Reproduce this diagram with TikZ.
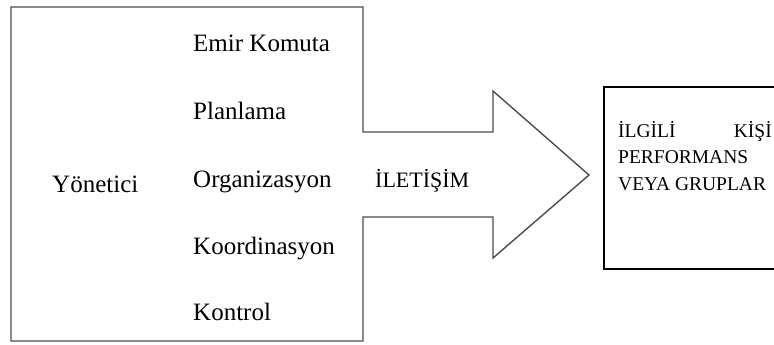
\documentclass[tikz,border=0pt]{standalone}
\usepackage{fontspec}
\setmainfont{Liberation Serif}
\begin{document}
\begin{tikzpicture}[x=1pt,y=-1pt,
  lbl/.style={inner sep=0pt, anchor=base west, font=\fontsize{25}{30}\selectfont},
  mid/.style={inner sep=0pt, anchor=base west, font=\fontsize{22}{26}\selectfont},
  rt/.style={inner sep=0pt, anchor=base west, font=\fontsize{19.5}{24}\selectfont},
  outline/.style={draw=black!70, line width=1.4pt, line join=miter},
  boxline/.style={draw=black, line width=1.4pt}]
\path[use as bounding box, clip] (0,0) rectangle (774,345);
\fill[white] (0,0) rectangle (774,345);
% main shape with arrow
\draw[outline] (11,7) -- (363,7) -- (363,132) -- (493,132) -- (493,91) -- (589,175)
  -- (493,258) -- (493,217) -- (363,217) -- (363,341) -- (11,341) -- cycle;
% right box (cut at the edge)
\draw[boxline] (604,87) rectangle (800,269);
% texts
\node[lbl] (yon) at (52,192) {Yönetici};
\node[lbl] (emir) at (193,52) {Emir Komuta};
\node[lbl] (plan) at (193,119) {Planlama};
\node[lbl] (org) at (193,187) {Organizasyon};
\node[lbl] (koor) at (193,254) {Koordinasyon};
\node[lbl] (kon) at (193,320) {Kontrol};
\node[mid] (ilet) at (375,187) {İLETİŞİM};
\node[rt] (ilg) at (618,137) {İLGİLİ};
\node[rt, anchor=base east] (kisi) at (772,137) {KİŞİ};
\node[rt] (perf) at (618,163.5) {PERFORMANS};
\node[rt] (veya) at (618,190) {VEYA GRUPLAR};
\end{tikzpicture}
\end{document}
